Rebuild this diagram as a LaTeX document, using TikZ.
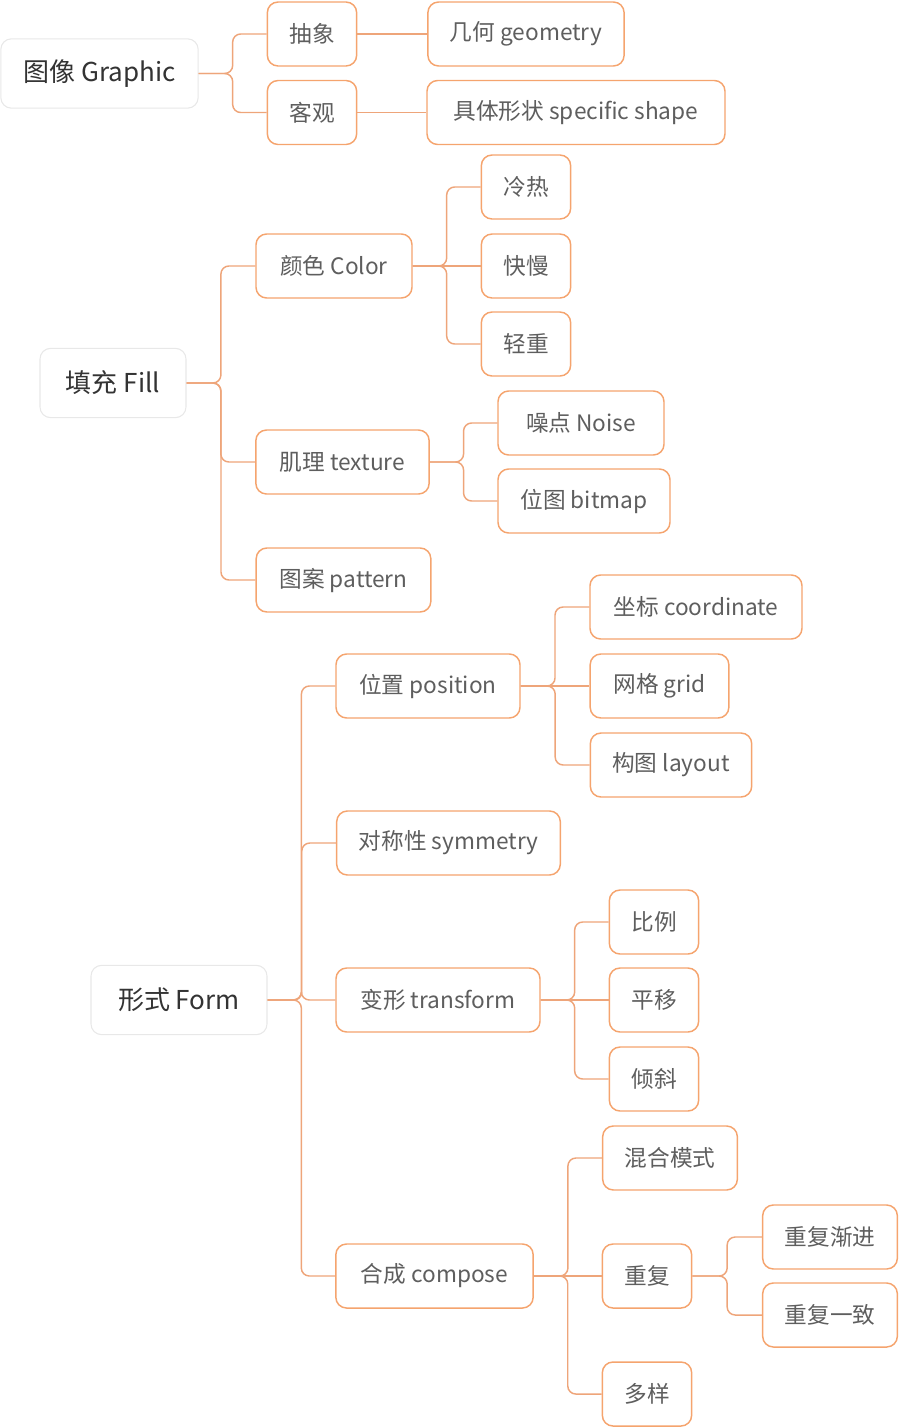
\documentclass[tikz,border=0pt]{standalone}
\usepackage{fontspec}
\setmainfont{Noto Sans CJK SC}
\usepackage{xcolor}
\usepackage{tikz}
\usetikzlibrary{positioning,calc}

\definecolor{rimorange}{HTML}{F5A46E}
\definecolor{linkorange}{HTML}{EEA57A}
\definecolor{rootrim}{HTML}{E8E8E8}
\definecolor{roottext}{HTML}{333333}
\definecolor{leaftext}{HTML}{5E5E5E}

\tikzset{
    rootbox/.style={draw=rootrim, line width=0.8pt, fill=white, rounded corners=8pt,
        minimum height=52pt, inner xsep=17pt, text=roottext,
        font=\fontsize{19.5}{22}\selectfont},
    leafbox/.style={draw=rimorange, line width=1.1pt, fill=white, rounded corners=8pt,
        minimum height=48pt, inner xsep=16.5pt, text=leaftext,
        font=\fontsize{17}{20}\selectfont},
    link/.style={draw=linkorange, line width=1.1pt, rounded corners=6pt}
}

\begin{document}
\begin{tikzpicture}[x=0.75pt, y=-0.75pt]
    \useasboundingbox (0,0) rectangle (900,1428);

    % Graphic branch
    \node[rootbox] (graphic) at (99.5,73.5) {图像 Graphic};
    \node[leafbox] (abstract) at (312,34) {抽象};
    \node[leafbox] (objective) at (312,112.5) {客观};
    \node[leafbox] (geometry) at (526,34) {几何 geometry};
    \node[leafbox, minimum width=223.5pt] (shape) at (576,112.5) {具体形状 specific shape};

    % Fill branch
    \node[rootbox, minimum width=109.5pt] (fill) at (113,383) {填充 Fill};
    \node[leafbox, minimum width=117pt] (color) at (334,266) {颜色 Color};
    \node[leafbox] (warm) at (526,187) {冷热};
    \node[leafbox] (speed) at (526,266) {快慢};
    \node[leafbox] (weight) at (526,344) {轻重};
    \node[leafbox, minimum width=130pt] (texture) at (342.5,462) {肌理 texture};
    \node[leafbox, minimum width=124.5pt] (noise) at (581,423) {噪点 Noise};
    \node[leafbox, minimum width=129pt] (bitmap) at (584,501) {位图 bitmap};
    \node[leafbox, minimum width=131pt] (pattern) at (343.5,580) {图案 pattern};

    % Form branch
    \node[rootbox, minimum width=132pt] (form) at (179,1000) {形式 Form};
    \node[leafbox, minimum width=138pt] (position) at (428,686) {位置 position};
    \node[leafbox, minimum width=159pt] (coord) at (696,607) {坐标 coordinate};
    \node[leafbox, minimum width=104pt] (grid) at (659.5,686) {网格 grid};
    \node[leafbox] (layout) at (671,765) {构图 layout};
    \node[leafbox] (symmetry) at (448.5,843) {对称性 symmetry};
    \node[leafbox, minimum width=153pt] (transform) at (438,1000) {变形 transform};
    \node[leafbox] (scale) at (654,922) {比例};
    \node[leafbox] (shift) at (654,1000) {平移};
    \node[leafbox] (skew) at (654,1079) {倾斜};
    \node[leafbox, minimum width=148pt] (compose) at (434.5,1276) {合成 compose};
    \node[leafbox] (blend) at (670,1158) {混合模式};
    \node[leafbox] (repeat) at (647,1276) {重复};
    \node[leafbox] (gradual) at (830,1237) {重复渐进};
    \node[leafbox] (uniform) at (830,1315) {重复一致};
    \node[leafbox] (variety) at (647,1394) {多样};

    % Connectors that bend through a bus
    \foreach \p/\c in {graphic/abstract, graphic/objective,
        fill/color, fill/texture, fill/pattern, color/warm, color/weight,
        texture/noise, texture/bitmap,
        form/position, form/symmetry, form/transform, form/compose,
        position/coord, position/layout,
        transform/scale, transform/skew,
        compose/blend, compose/variety,
        repeat/gradual, repeat/uniform}
        \draw[link] (\p.east) -| ($(\p.east)!.5!(\c.west)$) |- (\c.west);

    % Straight connectors
    \foreach \p/\c in {abstract/geometry, objective/shape, color/speed,
        position/grid, transform/shift, compose/repeat}
        \draw[link] (\p.east) -- (\c.west);
\end{tikzpicture}
\end{document}
